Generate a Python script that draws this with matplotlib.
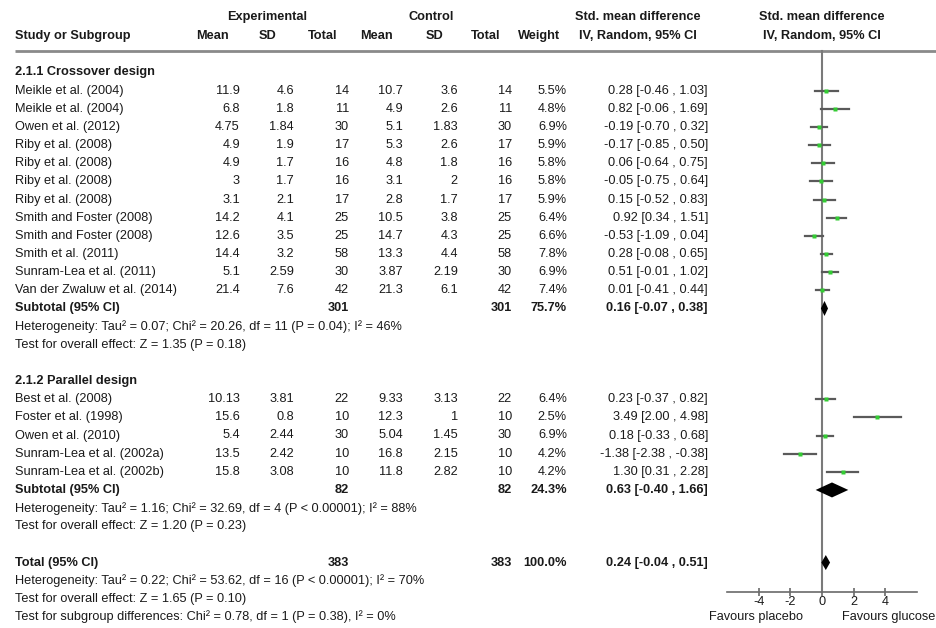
import matplotlib
matplotlib.use("Agg")
from matplotlib import pyplot as plt

plt.rcParams["font.family"] = ["Liberation Sans", "DejaVu Sans"]

# subgroup 2.1.1 crossover design
g1_names = ["Meikle et al. (2004)", "Meikle et al. (2004)", "Owen et al. (2012)",
            "Riby et al. (2008)", "Riby et al. (2008)", "Riby et al. (2008)",
            "Riby et al. (2008)", "Smith and Foster (2008)", "Smith and Foster (2008)",
            "Smith et al. (2011)", "Sunram-Lea et al. (2011)", "Van der Zwaluw et al. (2014)"]
g1_exp_mean = ["11.9", "6.8", "4.75", "4.9", "4.9", "3", "3.1", "14.2", "12.6", "14.4", "5.1", "21.4"]
g1_exp_sd = ["4.6", "1.8", "1.84", "1.9", "1.7", "1.7", "2.1", "4.1", "3.5", "3.2", "2.59", "7.6"]
g1_exp_n = [14, 11, 30, 17, 16, 16, 17, 25, 25, 58, 30, 42]
g1_ctl_mean = ["10.7", "4.9", "5.1", "5.3", "4.8", "3.1", "2.8", "10.5", "14.7", "13.3", "3.87", "21.3"]
g1_ctl_sd = ["3.6", "2.6", "1.83", "2.6", "1.8", "2", "1.7", "3.8", "4.3", "4.4", "2.19", "6.1"]
g1_ctl_n = [14, 11, 30, 17, 16, 16, 17, 25, 25, 58, 30, 42]
g1_weight = [5.5, 4.8, 6.9, 5.9, 5.8, 5.8, 5.9, 6.4, 6.6, 7.8, 6.9, 7.4]
g1_smd = [0.28, 0.82, -0.19, -0.17, 0.06, -0.05, 0.15, 0.92, -0.53, 0.28, 0.51, 0.01]
g1_lo = [-0.46, -0.06, -0.70, -0.85, -0.64, -0.75, -0.52, 0.34, -1.09, -0.08, -0.01, -0.41]
g1_hi = [1.03, 1.69, 0.32, 0.50, 0.75, 0.64, 0.83, 1.51, 0.04, 0.65, 1.02, 0.44]

# subgroup 2.1.2 parallel design
g2_names = ["Best et al. (2008)", "Foster et al. (1998)", "Owen et al. (2010)",
            "Sunram-Lea et al. (2002a)", "Sunram-Lea et al. (2002b)"]
g2_exp_mean = ["10.13", "15.6", "5.4", "13.5", "15.8"]
g2_exp_sd = ["3.81", "0.8", "2.44", "2.42", "3.08"]
g2_exp_n = [22, 10, 30, 10, 10]
g2_ctl_mean = ["9.33", "12.3", "5.04", "16.8", "11.8"]
g2_ctl_sd = ["3.13", "1", "1.45", "2.15", "2.82"]
g2_ctl_n = [22, 10, 30, 10, 10]
g2_weight = [6.4, 2.5, 6.9, 4.2, 4.2]
g2_smd = [0.23, 3.49, 0.18, -1.38, 1.30]
g2_lo = [-0.37, 2.00, -0.33, -2.38, 0.31]
g2_hi = [0.82, 4.98, 0.68, -0.38, 2.28]

# pooled estimates: subtotal 1, subtotal 2, total
pooled_n = [301, 82, 383]
pooled_weight = [75.7, 24.3, 100.0]
pooled_smd = [0.16, 0.63, 0.24]
pooled_lo = [-0.07, -0.40, -0.04]
pooled_hi = [0.38, 1.66, 0.51]

het_text = [
    "Heterogeneity: Tau\u00b2 = 0.07; Chi\u00b2 = 20.26, df = 11 (P = 0.04); I\u00b2 = 46%",
    "Heterogeneity: Tau\u00b2 = 1.16; Chi\u00b2 = 32.69, df = 4 (P < 0.00001); I\u00b2 = 88%",
    "Heterogeneity: Tau\u00b2 = 0.22; Chi\u00b2 = 53.62, df = 16 (P < 0.00001); I\u00b2 = 70%",
]
effect_text = [
    "Test for overall effect: Z = 1.35 (P = 0.18)",
    "Test for overall effect: Z = 1.20 (P = 0.23)",
    "Test for overall effect: Z = 1.65 (P = 0.10)",
]
subgroup_text = "Test for subgroup differences: Chi\u00b2 = 0.78, df = 1 (P = 0.38), I\u00b2 = 0%"

W, H = 937, 628
FS = 9.2
TXT = "#1a1a1a"
ROW0, STEP = 72.5, 18.15


def ry(i):
    return ROW0 + STEP * i


def ci_str(m, lo, hi):
    return f"{m:.2f} [{lo:.2f} , {hi:.2f}]"


fig = plt.figure(figsize=(W / 100, H / 100), dpi=100)
ax = fig.add_axes([0, 0, 1, 1])
ax.set_xlim(0, W)
ax.set_ylim(H, 0)
ax.axis("off")

# forest panel: -6..6 maps to x 727..917 px
fa = fig.add_axes([727 / W, 0, 190 / W, 1])
fa.set_xlim(-6, 6)
fa.set_ylim(H, 0)
fa.patch.set_alpha(0)

col_x = {"em": 240, "es": 294, "en": 349, "cm": 403, "cs": 458, "cn": 512, "w": 567, "ci": 708}


def t(x, y, s, ha="left", bold=False, size=FS):
    ax.text(x, y, s, ha=ha, va="center", fontsize=size, color=TXT,
            fontweight="bold" if bold else "normal")


# headers
t(267, 17, "Experimental", ha="center", bold=True)
t(431, 17, "Control", ha="center", bold=True)
t(638, 17, "Std. mean difference", ha="center", bold=True)
t(822, 17, "Std. mean difference", ha="center", bold=True)
t(15, 36, "Study or Subgroup", bold=True)
for x, s in [(212, "Mean"), (268, "SD"), (323, "Total"), (376, "Mean"), (435, "SD"),
             (486, "Total"), (539, "Weight"), (638, "IV, Random, 95% CI")]:
    t(x, 36, s, ha="center", bold=True)
t(822, 36, "IV, Random, 95% CI", ha="center", bold=True)
ax.plot([15, W], [51, 51], color="#8a8a8a", lw=2, solid_capstyle="butt")


def draw_pooled(y, label, k):
    t(15, y, label, bold=True)
    t(col_x["en"], y, str(pooled_n[k]), ha="right", bold=True)
    t(col_x["cn"], y, str(pooled_n[k]), ha="right", bold=True)
    t(col_x["w"], y, f"{pooled_weight[k]:.1f}%", ha="right", bold=True)
    t(col_x["ci"], y, ci_str(pooled_smd[k], pooled_lo[k], pooled_hi[k]), ha="right", bold=True)
    h = 7.5
    fa.fill([pooled_lo[k], pooled_smd[k], pooled_hi[k], pooled_smd[k]],
            [y, y - h, y, y + h], color="black", zorder=5, lw=0)


def draw_group(start, title, names, em, es, en, cm, cs, cn, wt, smd, lo, hi, k):
    t(15, ry(start), title, bold=True)
    for j in range(len(names)):
        y = ry(start + 1 + j)
        t(15, y, names[j])
        t(col_x["em"], y, em[j], ha="right")
        t(col_x["es"], y, es[j], ha="right")
        t(col_x["en"], y, str(en[j]), ha="right")
        t(col_x["cm"], y, cm[j], ha="right")
        t(col_x["cs"], y, cs[j], ha="right")
        t(col_x["cn"], y, str(cn[j]), ha="right")
        t(col_x["w"], y, f"{wt[j]:.1f}%", ha="right")
        t(col_x["ci"], y, ci_str(smd[j], lo[j], hi[j]), ha="right")
        fa.plot([lo[j], hi[j]], [y, y], color="#5a5a5a", lw=1.6, zorder=3)
        fa.plot(smd[j], y, marker="s", ms=2.2 + 0.15 * wt[j], color="#33cc33",
                mec="none", zorder=4)
    n = len(names)
    draw_pooled(ry(start + 1 + n), "Subtotal (95% CI)", k)
    t(15, ry(start + 2 + n), het_text[k])
    t(15, ry(start + 3 + n), effect_text[k])


draw_group(0, "2.1.1 Crossover design", g1_names, g1_exp_mean, g1_exp_sd, g1_exp_n,
           g1_ctl_mean, g1_ctl_sd, g1_ctl_n, g1_weight, g1_smd, g1_lo, g1_hi, 0)
s2 = len(g1_names) + 5
draw_group(s2, "2.1.2 Parallel design", g2_names, g2_exp_mean, g2_exp_sd, g2_exp_n,
           g2_ctl_mean, g2_ctl_sd, g2_ctl_n, g2_weight, g2_smd, g2_lo, g2_hi, 1)
st = s2 + len(g2_names) + 5
draw_pooled(ry(st), "Total (95% CI)", 2)
t(15, ry(st + 1), het_text[2])
t(15, ry(st + 2), effect_text[2])
t(15, ry(st + 3), subgroup_text)

# zero line and axis
axis_y = 592
fa.plot([0, 0], [51, axis_y], color="#7a7a7a", lw=1.5, zorder=2)
for s in ["top", "left", "right"]:
    fa.spines[s].set_visible(False)
fa.spines["bottom"].set_position(("data", axis_y))
fa.spines["bottom"].set_color("#6a6a6a")
fa.spines["bottom"].set_linewidth(1.2)
fa.set_yticks([])
fa.set_xticks([-4, -2, 0, 2, 4])
fa.tick_params(axis="x", direction="inout", length=6, width=1.2, color="#6a6a6a",
               labelsize=FS, labelcolor=TXT, pad=0)
fa.set_xticklabels(["-4", "-2", "0", "2", "4"])
t(756, 617, "Favours placebo", ha="center")
t(935, 617, "Favours glucose", ha="right")

fig.savefig("out.png", dpi=100)
